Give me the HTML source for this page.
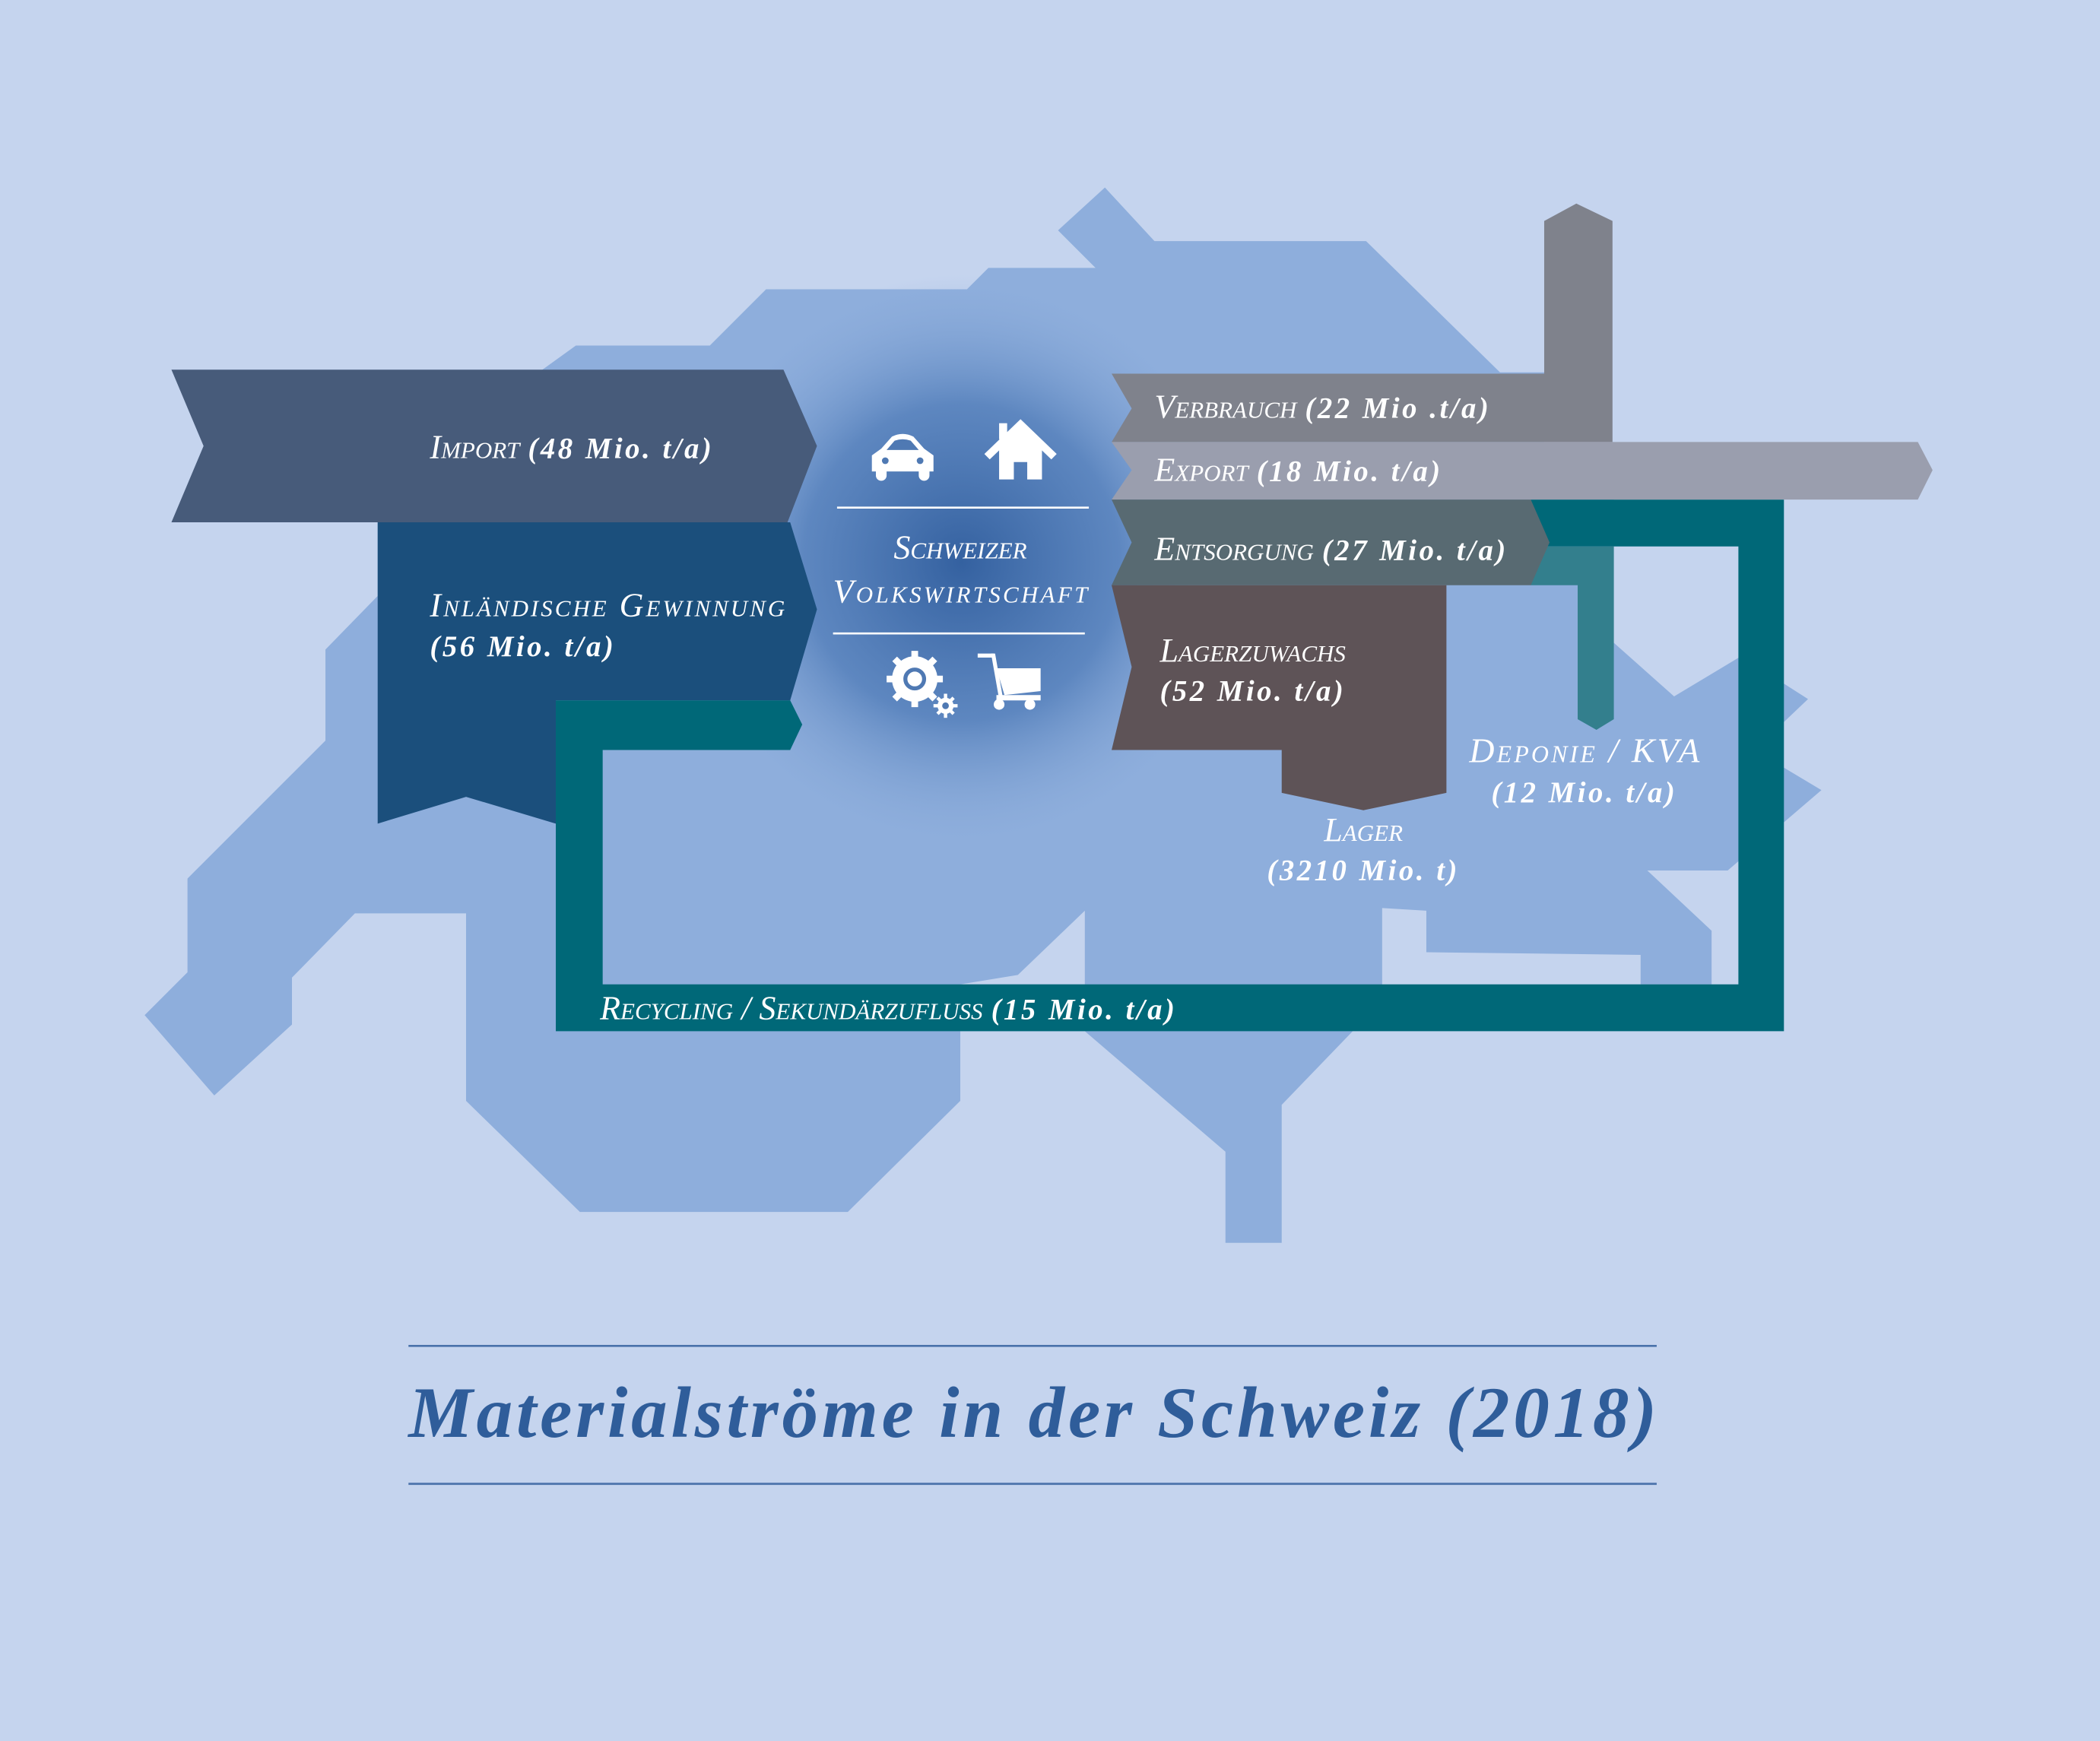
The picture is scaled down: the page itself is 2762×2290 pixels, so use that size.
<!DOCTYPE html>
<html><head><meta charset="utf-8"><style>
html,body{margin:0;padding:0;background:#c5d4ee;}
svg{display:block}
.t{font-family:"Liberation Serif",serif;font-style:italic;fill:#fff;font-variant:small-caps;}
.b{font-weight:bold;font-variant:normal;letter-spacing:2px;}
</style></head><body>
<svg width="2762" height="2290" viewBox="0 0 1568 1300" xmlns="http://www.w3.org/2000/svg">
<defs>
<radialGradient id="g" cx="718" cy="420" r="215" gradientUnits="userSpaceOnUse">
<stop offset="0" stop-color="#3461a0"/>
<stop offset="0.55" stop-color="#5580bb" stop-opacity="0.85"/>
<stop offset="1" stop-color="#8eaedc" stop-opacity="0"/>
</radialGradient>
</defs>
<rect width="1568" height="1300" fill="#c5d4ee"/>
<polygon fill="#8eaedc" points="108,758 140,726 140,656 243,553 243,485 282,445 282,390 405,276 430,258 530,258 572,216 722,216 738,200 818,200 790,172 825,140 862,180 1020,180 1120,278 1153,278 1153,330 1205,330 1205,480 1250,520 1300,490 1350,522 1310,560 1360,590 1290,650 1230,650 1278,695 1278,735 1225,735 1225,713 1065,711 1065,680 1032,678 1032,735 1010,770 957,825 957,928 915,928 915,860 810,770 717,770 717,822 633,905 433,905 348,822 348,682 265,682 218,730 218,765 160,818"/>
<polygon fill="#c5d4ee" points="717,735 760,728 810,680 810,735"/>
<circle cx="718" cy="420" r="215" fill="url(#g)"/>
<polygon fill="#1b4f7c" points="282,390 590,390 610,455 590,523 415,523 415,615 348,595 282,615"/>
<polygon fill="#475b7a" points="128,276 585,276 610,333 588,390 128,390 152,333"/>
<polygon fill="#006878" points="415,523 590,523 599,541 590,560 450,560 450,735 1298,735 1298,408 1150,408 1143,373 1332,373 1332,770 415,770"/>
<polygon fill="#337f8d" points="1143,408 1205,408 1205,537 1192,545 1178,537 1178,437 1143,437"/>
<polygon fill="#7f828c" points="830,279 1153,279 1153,165 1177,152 1204,165 1204,330 830,330 845,305"/>
<polygon fill="#9a9eae" points="830,330 1432,330 1443,351 1432,373 830,373 845,351"/>
<polygon fill="#586a72" points="830,373 1143,373 1157,405 1143,437 830,437 845,405"/>
<polygon fill="#5e5357" points="830,437 1080,437 1080,592 1018,605 957,592 957,560 830,560 845,498"/>
<line x1="625" y1="379" x2="813" y2="379" stroke="#fff" stroke-width="1.5"/>
<line x1="622" y1="473" x2="810" y2="473" stroke="#fff" stroke-width="1.5"/>
<g fill="#fff">
<path d="M658,335 L666,326 Q674,322 682,326 L690,335 L697,340 L697,352 L651,352 L651,340 Z"/>
<rect x="654" y="348" width="8" height="11" rx="4"/><rect x="686" y="348" width="8" height="11" rx="4"/>
</g>
<path d="M662,336 L668,329 Q674,327 680,329 L686,336 Z" fill="#4f79b3"/>
<circle cx="661" cy="344" r="2.5" fill="#4f79b3"/><circle cx="687" cy="344" r="2.5" fill="#4f79b3"/>
<g fill="#fff">
<polygon points="735,339 762,313 789,339 785,343 762,321 739,343"/>
<polygon points="746,335 762,320 778,335 778,358 767,358 767,345 757,345 757,358 746,358"/>
<rect x="746" y="316" width="6" height="12"/>
</g>
<g fill="#fff">
<circle cx="683" cy="507" r="17"/>
<g stroke="#fff" stroke-width="5">
<line x1="683" y1="486" x2="683" y2="528"/><line x1="662" y1="507" x2="704" y2="507"/>
<line x1="668" y1="492" x2="698" y2="522"/><line x1="698" y1="492" x2="668" y2="522"/>
</g>
<circle cx="706" cy="527" r="6"/>
<g stroke="#fff" stroke-width="2.5">
<line x1="706" y1="518" x2="706" y2="536"/><line x1="697" y1="527" x2="715" y2="527"/>
<line x1="700" y1="521" x2="712" y2="533"/><line x1="712" y1="521" x2="700" y2="533"/>
</g>
</g>
<circle cx="683" cy="507" r="7" fill="none" stroke="#4f79b3" stroke-width="3"/>
<circle cx="706" cy="527" r="2.5" fill="#4f79b3"/>
<g fill="#fff">
<rect x="730" y="488" width="12" height="3"/>
<polygon points="740,488 743,488 749,522 746,522"/>
<polygon points="744,499 777,499 777,516 750,519"/>
<rect x="744" y="519" width="33" height="4"/>
<circle cx="746" cy="526" r="4"/><circle cx="769" cy="526" r="4"/>
</g>
<text class="t" x="321" y="342" font-size="25">Import <tspan class="b" font-size="22">(48 Mio. t/a)</tspan></text>
<text class="t" x="321" y="460" font-size="25" textLength="265">Inländische Gewinnung</text>
<text class="t b" x="321" y="490" font-size="22">(56 Mio. t/a)</text>
<text class="t" x="717" y="417" font-size="25" text-anchor="middle">Schweizer</text>
<text class="t" x="717" y="450" font-size="25" text-anchor="middle" textLength="190">Volkswirtschaft</text>
<text class="t" x="862" y="312" font-size="25">Verbrauch <tspan class="b" font-size="22">(22 Mio .t/a)</tspan></text>
<text class="t" x="862" y="359" font-size="25">Export <tspan class="b" font-size="22">(18 Mio. t/a)</tspan></text>
<text class="t" x="862" y="418" font-size="25">Entsorgung <tspan class="b" font-size="22">(27 Mio. t/a)</tspan></text>
<text class="t" x="866" y="494" font-size="25">Lagerzuwachs</text>
<text class="t b" x="866" y="523" font-size="22">(52 Mio. t/a)</text>
<text class="t" x="1018" y="628" font-size="25" text-anchor="middle">Lager</text>
<text class="t b" x="1018" y="657" font-size="22" text-anchor="middle">(3210 Mio. t)</text>
<text class="t" x="1183" y="569" font-size="26" text-anchor="middle" textLength="172">Deponie / KVA</text>
<text class="t b" x="1183" y="599" font-size="22" text-anchor="middle">(12 Mio. t/a)</text>
<text class="t" x="448" y="761" font-size="25">Recycling / Sekundärzufluss <tspan class="b" font-size="22">(15 Mio. t/a)</tspan></text>
<line x1="305" y1="1005" x2="1237" y2="1005" stroke="#4a72aa" stroke-width="1.5"/>
<line x1="305" y1="1108" x2="1237" y2="1108" stroke="#4a72aa" stroke-width="1.5"/>
<text x="305" y="1073" font-family="Liberation Serif, serif" font-style="italic" font-weight="bold" font-size="54" fill="#2f5d9a" textLength="932">Materialströme in der Schweiz (2018)</text>
</svg>
</body></html>
